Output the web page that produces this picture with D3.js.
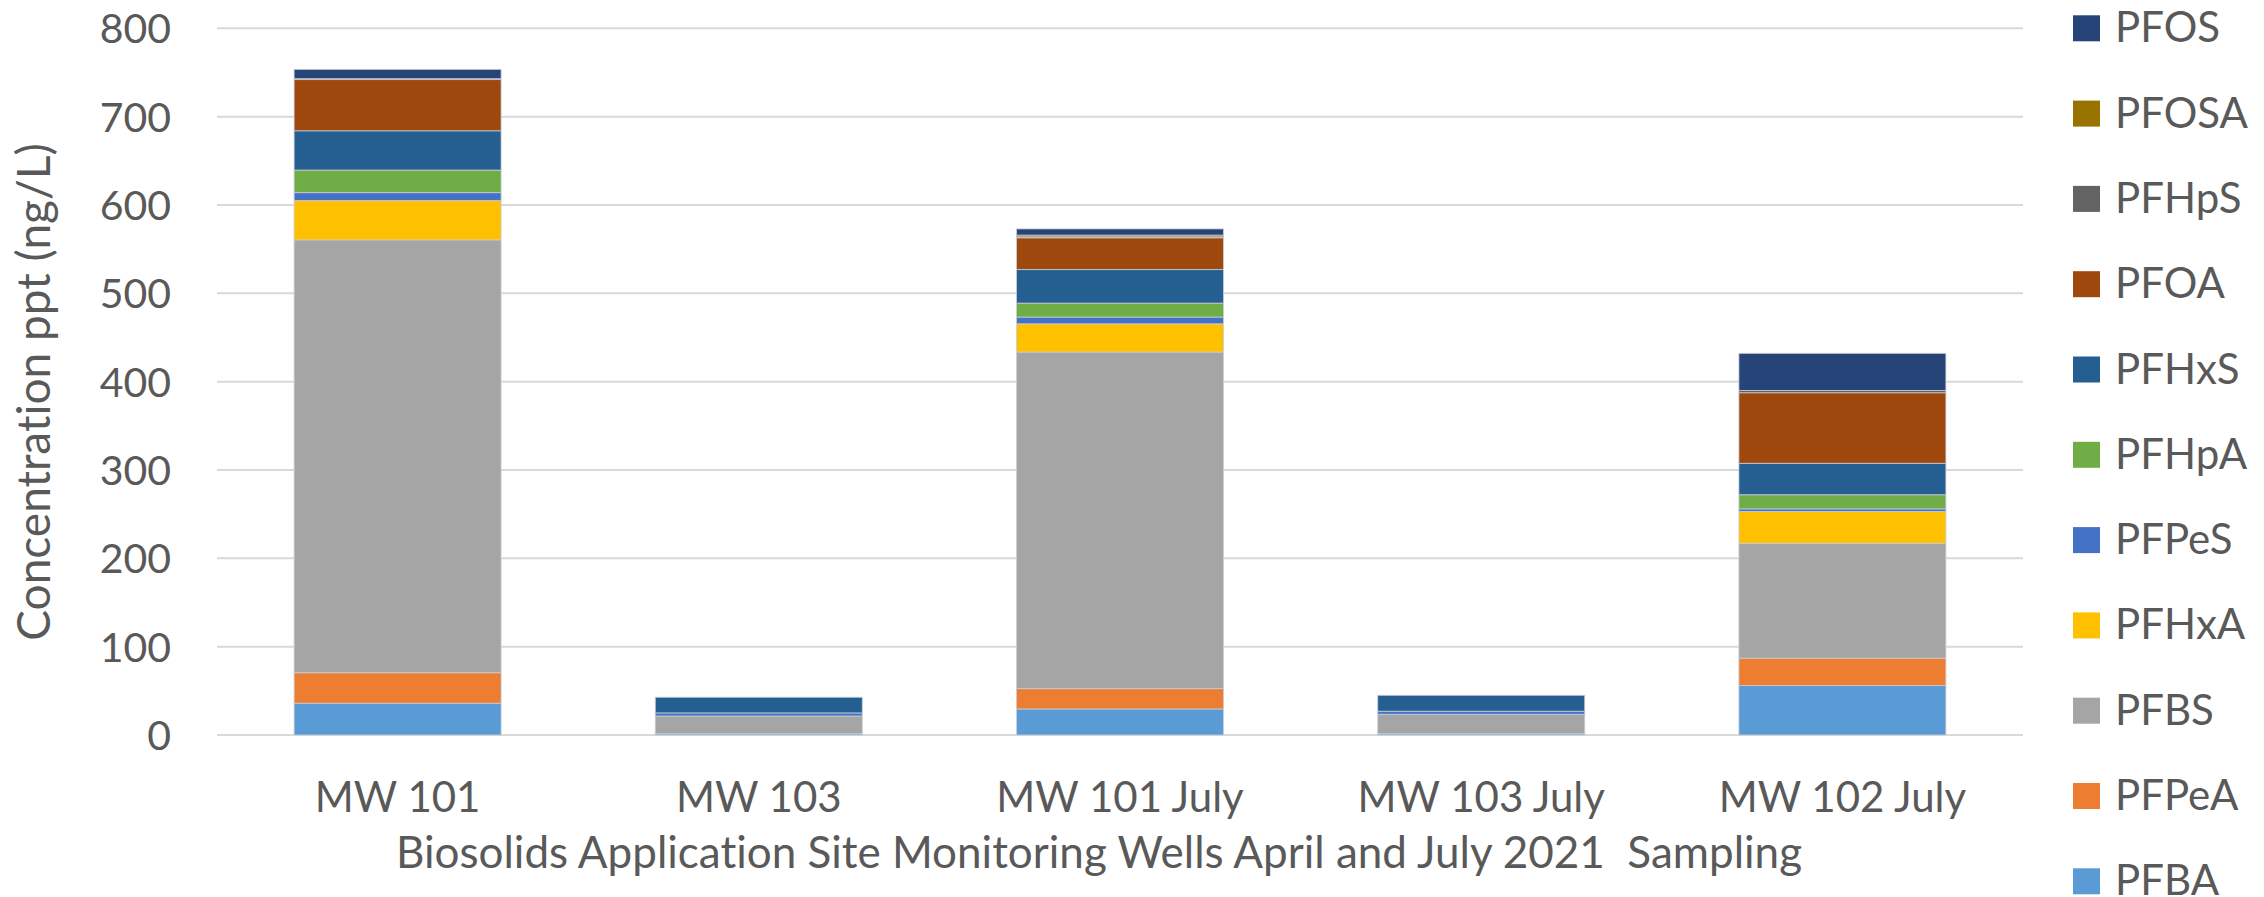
<!DOCTYPE html>
<html lang="en">
<head>
    <meta charset="UTF-8">
    <title>PFAS monitoring wells</title>
    <style>
        body { margin: 0; background: #fff; }
        text { font-family: Lato, "Open Sans", sans-serif; fill: #595959; font-variant-ligatures: none; }
    </style>
</head>
<body>
<svg id="chart" width="2264" height="897"></svg>
<script src="https://d3js.org/d3.v7.min.js"></script>
<script>

    // wells on the x axis
    var wells = ["MW 101", "MW 103", "MW 101 July", "MW 103 July", "MW 102 July"];

    // compounds, stacked bottom to top
    var compounds = ["PFBA", "PFPeA", "PFBS", "PFHxA", "PFPeS", "PFHpA", "PFHxS", "PFOA", "PFHpS", "PFOSA", "PFOS"];

    // concentration (ng/L) per compound, one value per well
    var PFBA  = [36, 1.5, 29.5, 1.5, 56];
    var PFPeA = [34.5, 0, 23, 0, 31];
    var PFBS  = [490, 20, 381, 22, 130];
    var PFHxA = [44.5, 0, 32, 0, 36];
    var PFPeS = [9, 3.5, 7.6, 3.4, 3];
    var PFHpA = [25.5, 0, 15.8, 0, 16];
    var PFHxS = [44.5, 17.7, 38, 18, 35.5];
    var PFOA  = [58, 0, 36, 0, 80];
    var PFHpS = [1, 0, 1, 0, 2.5];
    var PFOSA = [0, 0, 2, 0, 0];
    var PFOS  = [10.5, 0, 7, 0, 42];

    var yTicks = [0, 100, 200, 300, 400, 500, 600, 700, 800];

    var colors = ["#5b9bd5", "#ed7d31", "#a5a5a5", "#ffc000", "#4472c4", "#70ad47",
                  "#255e91", "#9e480e", "#636363", "#997300", "#264478"];

    var series = [PFBA, PFPeA, PFBS, PFHxA, PFPeS, PFHpA, PFHxS, PFOA, PFHpS, PFOSA, PFOS];

    // rows for d3.stack
    var table = wells.map(function (w, i) {
        var row = { well: w };
        compounds.forEach(function (c, j) { row[c] = series[j][i]; });
        return row;
    });

    var svg = d3.select("#chart"),
        plotLeft = 217, plotRight = 2023, plotTop = 28.3, plotBottom = 735;

    var x = d3.scaleBand().domain(wells).range([plotLeft, plotRight])
        .paddingInner(0.427).paddingOuter(0.2135);
    var y = d3.scaleLinear().domain([0, 800]).range([plotBottom, plotTop]);
    var color = d3.scaleOrdinal().domain(compounds).range(colors);

    // gridlines
    svg.append("g")
        .selectAll("line")
        .data(yTicks)
        .join("line")
        .attr("x1", plotLeft).attr("x2", plotRight)
        .attr("y1", function (d) { return y(d); })
        .attr("y2", function (d) { return y(d); })
        .attr("stroke", "#d9d9d9")
        .attr("stroke-width", 2);

    // y tick labels
    svg.append("g")
        .selectAll("text")
        .data(yTicks)
        .join("text")
        .attr("x", 171)
        .attr("y", function (d) { return y(d) + 15; })
        .attr("text-anchor", "end")
        .attr("font-size", 41)
        .text(function (d) { return d; });

    // stacked bars
    var stacked = d3.stack().keys(compounds)(table);

    svg.append("g")
        .selectAll("g")
        .data(stacked)
        .join("g")
        .attr("fill", function (d) { return color(d.key); })
        .selectAll("rect")
        .data(function (d) { return d; })
        .join("rect")
        .attr("x", function (d) { return x(d.data.well); })
        .attr("width", x.bandwidth())
        .attr("y", function (d) { return y(d[1]); })
        .attr("height", function (d) { return y(d[0]) - y(d[1]); })
        .attr("stroke", function (d) { return d[1] > d[0] ? "rgba(200,205,215,0.8)" : "none"; })
        .attr("stroke-width", 1);

    // x tick labels
    svg.append("g")
        .selectAll("text")
        .data(wells)
        .join("text")
        .attr("x", function (d) { return x(d) + x.bandwidth() / 2; })
        .attr("y", 812)
        .attr("text-anchor", "middle")
        .attr("font-size", 42)
        .text(function (d) { return d; });

    // axis titles
    svg.append("text")
        .attr("x", 1099)
        .attr("y", 868)
        .attr("text-anchor", "middle")
        .attr("font-size", 44)
        .attr("xml:space", "preserve")
        .text("Biosolids Application Site Monitoring Wells April and July 2021  Sampling");

    svg.append("text")
        .attr("transform", "translate(50,392) rotate(-90)")
        .attr("text-anchor", "middle")
        .attr("font-size", 46)
        .text("Concentration ppt (ng/L)");

    // legend, top entry is the last stacked series
    var legendOrder = compounds.slice().reverse();
    var legend = svg.append("g")
        .selectAll("g")
        .data(legendOrder)
        .join("g")
        .attr("transform", function (d, i) { return "translate(2073," + (28.3 + i * 85.3) + ")"; });

    legend.append("rect")
        .attr("x", 0).attr("y", -13)
        .attr("width", 27).attr("height", 26)
        .attr("fill", function (d) { return color(d); });

    legend.append("text")
        .attr("x", 42)
        .attr("y", 14)
        .attr("font-size", 42)
        .text(function (d) { return d; });

</script>
</body>
</html>
